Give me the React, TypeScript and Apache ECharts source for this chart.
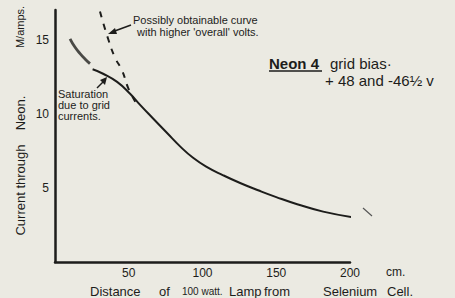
import React, { useEffect, useRef } from "react";
import * as echarts from "echarts";

// Distance (cm) vs current (mA)
const saturationPart: [number, number][] = [
  [10.2, 15.06], [13.5, 14.5], [17.0, 14.06], [20.5, 13.68], [23.7, 13.38],
];
const mainCurve: [number, number][] = [
  [25.5, 13.0], [32.6, 12.7], [42.1, 12.15], [50.9, 11.35], [57.7, 10.6],
  [66.5, 9.68], [76.0, 8.7], [84.8, 7.8], [93.6, 7.03], [103.1, 6.4],
  [114.0, 5.85], [125.5, 5.33], [137.7, 4.84], [150.0, 4.38], [164.2, 3.9],
  [181.8, 3.4], [201.5, 3.03],
];
const obtainableCurve: [number, number][] = [
  [30.5, 16.9], [36.0, 15.06], [40.7, 13.79], [45.5, 12.91], [49.5, 11.77], [54.5, 10.8],
];
const xTicks = [50, 100, 150, 200];
const yTicks = [5, 10, 15];

const INK = "#1d1d1b";
const FONT = "'Liberation Sans', 'DejaVu Sans', sans-serif";

export default function App() {
  const ref = useRef<HTMLDivElement>(null);
  useEffect(() => {
    document.body.style.margin = "0";
    const chart = echarts.init(ref.current!, null, { renderer: "svg" });
    const txt = (x: number, y: number, text: string, size: number, weight = "normal", extra: any = {}) => ({
      type: "text",
      x,
      y,
      style: { text, fill: INK, font: `${weight} ${size}px ${FONT}`, verticalAlign: "middle", ...extra },
    });
    const vtxt = (x: number, y: number, text: string, size: number) => ({
      type: "text",
      x,
      y,
      rotation: Math.PI / 2,
      style: { text, fill: INK, font: `${size}px ${FONT}`, align: "center", verticalAlign: "middle" },
    });
    chart.setOption({
      animation: false,
      backgroundColor: "#ebeae2",
      grid: { left: 55, right: 105, top: 10, bottom: 36 },
      xAxis: {
        type: "value",
        min: 0,
        max: 200,
        interval: 50,
        splitLine: { show: false },
        axisTick: { show: false },
        axisLine: { show: true, lineStyle: { color: INK, width: 2.5 } },
        axisLabel: {
          color: INK,
          fontSize: 12,
          fontFamily: FONT,
          margin: 5,
          formatter: (v: number) => (xTicks.includes(v) ? String(v) : ""),
        },
      },
      yAxis: {
        type: "value",
        min: 0,
        max: 17,
        interval: 5,
        splitLine: { show: false },
        axisTick: { show: false },
        axisLine: { show: true, lineStyle: { color: INK, width: 2.5 } },
        axisLabel: {
          color: INK,
          fontSize: 12,
          fontFamily: FONT,
          margin: 6,
          formatter: (v: number) => (yTicks.includes(v) ? String(v) : ""),
        },
      },
      series: [
        {
          type: "line",
          data: saturationPart,
          smooth: true,
          symbol: "none",
          lineStyle: { color: "#4a4a46", width: 2.8 },
        },
        {
          type: "line",
          data: mainCurve,
          smooth: 0.5,
          symbol: "none",
          lineStyle: { color: INK, width: 2 },
        },
        {
          type: "line",
          data: obtainableCurve,
          smooth: true,
          symbol: "none",
          lineStyle: { color: INK, width: 2, type: [6, 7] },
        },
      ],
      graphic: [
        txt(133, 20, "Possibly obtainable curve", 11),
        txt(137, 32, "with higher 'overall' volts.", 11),
        { type: "line", shape: { x1: 131, y1: 25, x2: 112, y2: 32 }, style: { stroke: INK, lineWidth: 1.6 } },
        { type: "polygon", shape: { points: [[108, 34], [115, 28], [117, 34]] }, style: { fill: INK } },
        txt(58, 94, "Saturation", 11),
        txt(58, 105, "due to grid", 11),
        txt(58, 116, "currents.", 11),
        { type: "line", shape: { x1: 97, y1: 88, x2: 104, y2: 81 }, style: { stroke: INK, lineWidth: 1.5 } },
        { type: "polygon", shape: { points: [[107, 77], [100, 80], [105, 85]] }, style: { fill: INK } },
        txt(269, 63, "Neon 4", 15, "bold"),
        { type: "line", shape: { x1: 269, y1: 71, x2: 322, y2: 71 }, style: { stroke: INK, lineWidth: 1.6 } },
        txt(330, 63, "grid bias·", 15),
        txt(325, 80, "+ 48 and -46½ v", 15),
        txt(386, 272, "cm.", 12),
        txt(90, 291, "Distance", 13),
        txt(159, 291, "of", 13),
        txt(182, 291, "100 watt.", 10),
        txt(229, 291, "Lamp", 13),
        txt(264, 291, "from", 13),
        txt(323, 291, "Selenium", 13),
        txt(387, 291, "Cell.", 13),
        vtxt(20, 190, "Current through", 13),
        vtxt(20, 113, "Neon.", 13),
        vtxt(20, 27, "M/amps.", 11),
        { type: "line", shape: { x1: 363, y1: 208, x2: 372, y2: 216 }, style: { stroke: "#555", lineWidth: 1.2 } },
      ],
    });
    return () => chart.dispose();
  }, []);
  return <div ref={ref} style={{ width: 455, height: 298 }} />;
}
